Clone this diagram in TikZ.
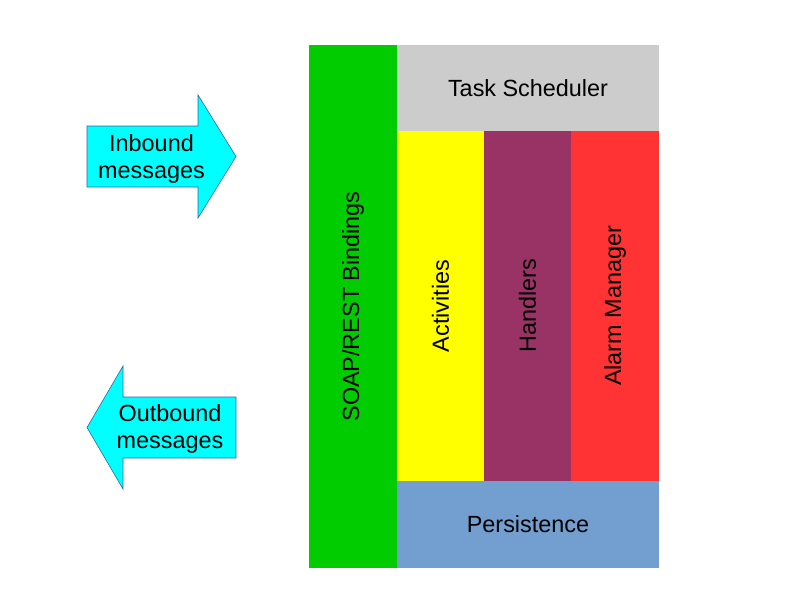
\documentclass[tikz,border=0pt]{standalone}
\usepackage{fontspec}
\setmainfont{Liberation Sans}
\usepackage{xcolor}
\definecolor{soapgreen}{HTML}{00CC00}
\definecolor{schedgray}{HTML}{CCCCCC}
\definecolor{actyellow}{HTML}{FFFF00}
\definecolor{handpurple}{HTML}{993366}
\definecolor{alarmred}{HTML}{FF3333}
\definecolor{persblue}{HTML}{729FCF}
\definecolor{msgcyan}{HTML}{00FFFF}
\definecolor{msgedge}{HTML}{3465A4}

\begin{document}
\begin{tikzpicture}[x=1pt, y=-1pt,
    box/.style={rectangle, inner sep=0pt, outer sep=0pt, font=\fontsize{23.4}{27}\selectfont},
    msgarrow/.style={fill=msgcyan, draw=msgedge, line width=0.6pt, line join=miter},
    msgtext/.style={align=center, inner sep=0pt, font=\fontsize{23.4}{27}\selectfont}]
    \useasboundingbox (0,0) rectangle (799,600);

    % binding layer
    \node[box, fill=soapgreen, rotate=90, minimum width=523pt, minimum height=88pt] (soap) at (353,306.5) {SOAP/REST Bindings};

    % scheduler and persistence
    \node[box, fill=schedgray, minimum width=262pt, minimum height=86pt] (sched) at (528,88) {Task Scheduler};
    \node[box, fill=persblue, minimum width=262pt, minimum height=87pt] (pers) at (528,524.5) {Persistence};

    % middle columns
    \node[box, fill=actyellow, rotate=90, minimum width=350pt, minimum height=87pt] (act) at (440.5,306) {Activities};
    \node[box, fill=handpurple, rotate=90, minimum width=350pt, minimum height=87pt] (hand) at (527.5,306) {Handlers};
    \node[box, fill=alarmred, rotate=90, minimum width=350pt, minimum height=88pt] (alarm) at (615,306) {Alarm Manager};

    % Inbound arrow
    \draw[msgarrow] (87,126) -- (198,126) -- (198,95) -- (236,156.5) -- (198,218) -- (198,187) -- (87,187) -- cycle;
    \node[msgtext] (inbound) at (151.5,159) {Inbound\\messages};

    % Outbound arrow
    \draw[msgarrow] (236,397) -- (123,397) -- (123,366) -- (87,427.5) -- (123,489) -- (123,458) -- (236,458) -- cycle;
    \node[msgtext] (outbound) at (170,429) {Outbound\\messages};
\end{tikzpicture}
\end{document}
